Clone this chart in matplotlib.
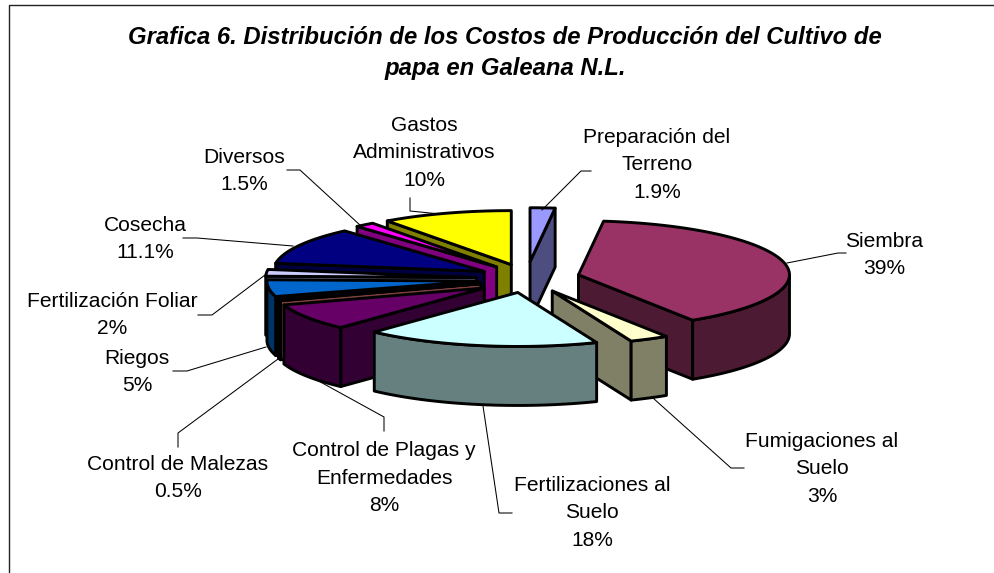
import matplotlib
matplotlib.use("Agg")
import matplotlib.pyplot as plt
from matplotlib.patches import Polygon
import numpy as np

plt.rcParams['font.family'] = ['Liberation Sans', 'DejaVu Sans']

# data, clockwise from the top
names = ["Preparación del\nTerreno", "Siembra", "Fumigaciones al\nSuelo",
         "Fertilizaciones al\nSuelo", "Control de Plagas y\nEnfermedades",
         "Control de Malezas", "Riegos", "Fertilización Foliar", "Cosecha",
         "Diversos", "Gastos\nAdministrativos"]
values = [1.9, 39, 3, 18, 8, 0.5, 5, 2, 11.1, 1.5, 10]
explode = [0.24, 0.26, 0.25, 0.19, 0.23, 0.22, 0.225, 0.23, 0.22, 0.215, 0.21]

top_colors = ["#9999FF", "#993366", "#FFFFCC", "#CCFFFF", "#660066", "#FF8080",
              "#0066CC", "#CCCCFF", "#000080", "#FF00FF", "#FFFF00"]
side_colors = ["#4D4D80", "#4D1A33", "#808066", "#668080", "#330033", "#804040",
               "#003366", "#666680", "#000040", "#800080", "#808000"]

# back to front
draw_order = [0, 10, 9, 8, 7, 6, 5, 4, 1, 2, 3]

label_pos = [(657, 165), (884, 255), (822, 469), (592, 513), (384, 478),
             (178, 478), (137, 372), (112, 315), (145, 239), (244, 171), (424, 153)]
leaders = [
    [(542, 210), (581, 171), (591, 171)],
    [(787, 263), (838, 253), (846, 253)],
    [(653, 398), (731, 468), (744, 468)],
    [(483, 406), (499, 513), (512, 513)],
    [(315, 379), (384, 417), (384, 431)],
    [(278, 359), (178, 433), (178, 447)],
    [(266, 347), (187, 371), (173, 371)],
    [(265, 275), (212, 315), (198, 315)],
    [(293, 246), (197, 238), (183, 238)],
    [(361, 226), (300, 170), (287, 170)],
    [(440, 214), (410, 211), (410, 198)],
]

cx, cy = 525, 279
rx, ry = 211, 54
depth = 59
explode_ry = 72
# a couple of slices sit a bit off the common explode line
nudge = {0: (2, 0), 2: (3, -4)}


def rim(apex, a0, a1):
    t = np.radians(np.linspace(a0, a1, max(int(abs(a1 - a0)) + 2, 2)))
    return np.column_stack([apex[0] + rx * np.sin(t), apex[1] - ry * np.cos(t)])


def poly(ax, pts, color):
    ax.add_patch(Polygon(pts, closed=True, facecolor=color, edgecolor="black",
                         linewidth=2.1, joinstyle="round"))


fig = plt.figure(figsize=(9.94, 5.73), dpi=100)
ax = fig.add_axes([0, 0, 1, 1])
ax.set_xlim(0, 994)
ax.set_ylim(573, 0)
ax.axis("off")

# chart frame, runs off the right and bottom edges
ax.plot([9, 9, 1000], [580, 4.5, 4.5], color="#222222", lw=1.0)

ax.text(505, 38, "Grafica 6. Distribución de los Costos de Producción del Cultivo de",
        ha="center", va="center", fontsize=17.2, fontweight="bold", fontstyle="italic")
ax.text(505, 68, "papa en Galeana N.L.",
        ha="center", va="center", fontsize=17.2, fontweight="bold", fontstyle="italic")

angles = np.concatenate([[0], np.cumsum(values)]) * 3.6

for i in draw_order:
    a0, a1 = angles[i], angles[i + 1]
    mid = np.radians((a0 + a1) / 2)
    nx, ny = nudge.get(i, (0, 0))
    apex = (cx + nx + explode[i] * rx * np.sin(mid),
            cy + ny - explode[i] * explode_ry * np.cos(mid))
    down = np.array([0, depth])

    # radial walls, only the ones turned to the viewer
    if np.sin(np.radians(a0)) < 0:
        e = rim(apex, a0, a0)[0]
        poly(ax, [apex, e, e + down, np.array(apex) + down], side_colors[i])
    if np.sin(np.radians(a1)) > 0:
        e = rim(apex, a1, a1)[0]
        poly(ax, [apex, e, e + down, np.array(apex) + down], side_colors[i])

    # outer wall for the front half
    lo, hi = max(a0, 90), min(a1, 270)
    if hi > lo:
        r = rim(apex, lo, hi)
        poly(ax, np.vstack([r, (r + down)[::-1]]), side_colors[i])

    poly(ax, np.vstack([[apex], rim(apex, a0, a1)]), top_colors[i])

for i, name in enumerate(names):
    pts = np.array(leaders[i])
    ax.plot(pts[:, 0], pts[:, 1], color="black", lw=0.75)
    ax.text(label_pos[i][0], label_pos[i][1], f"{name}\n{values[i]:g}%",
            ha="center", va="center", fontsize=15.1, linespacing=1.57, color="black")

fig.savefig("out.png", dpi=100)
